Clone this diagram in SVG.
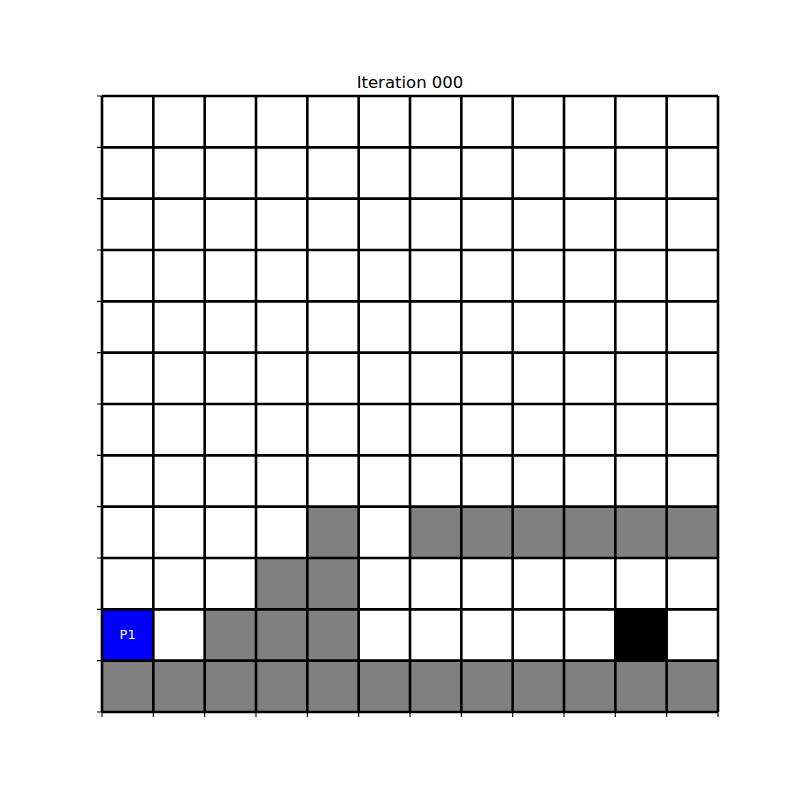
<svg xmlns="http://www.w3.org/2000/svg" width="800" height="800" viewBox="0 0 800 800">
<style>
.c{stroke:#000;stroke-width:2.6;}
.w{fill:#fff;}
.g{fill:#808080;}
.k{fill:#000;}
.b{fill:#0000ff;}
.t{stroke:#000;stroke-width:1.1;}
</style>
<rect width="800" height="800" fill="#fff"/>
<text x="410" y="88" font-family="DejaVu Sans, sans-serif" font-size="16.5" text-anchor="middle" fill="#000">Iteration 000</text>
<g id="cells">
<rect class="w" x="102" y="96" width="616" height="616"/>
<!-- row 8 -->
<rect class="g" x="307.333" y="506.667" width="51.333" height="51.333"/>
<rect class="g" x="410" y="506.667" width="308" height="51.333"/>
<!-- row 9 -->
<rect class="g" x="256" y="558" width="102.667" height="51.333"/>
<!-- row 10 -->
<rect class="g" x="204.667" y="609.333" width="154" height="51.333"/>
<rect class="k" x="615.333" y="609.333" width="51.333" height="51.333"/>
<!-- row 11 -->
<rect class="g" x="102" y="660.667" width="616" height="51.333"/>
</g>
<g id="P1">
<rect class="b" x="102" y="609.333" width="51.333" height="51.333"/>
<text x="127.67" y="639" font-family="DejaVu Sans, sans-serif" font-size="13" text-anchor="middle" fill="#fff">P1</text>
</g>
<g id="grid" class="c">
<path d="M102 96V712M153.333 96V712M204.667 96V712M256 96V712M307.333 96V712M358.667 96V712M410 96V712M461.333 96V712M512.667 96V712M564 96V712M615.333 96V712M666.667 96V712M718 96V712"/>
<path d="M102 96H718M102 147.333H718M102 198.667H718M102 250H718M102 301.333H718M102 352.667H718M102 404H718M102 455.333H718M102 506.667H718M102 558H718M102 609.333H718M102 660.667H718M102 712H718"/>
</g>
<g id="ticks" class="t">
<path d="M97 96H102M97 147.333H102M97 198.667H102M97 250H102M97 301.333H102M97 352.667H102M97 404H102M97 455.333H102M97 506.667H102M97 558H102M97 609.333H102M97 660.667H102M97 712H102"/>
<path d="M102 712V717M153.333 712V717M204.667 712V717M256 712V717M307.333 712V717M358.667 712V717M410 712V717M461.333 712V717M512.667 712V717M564 712V717M615.333 712V717M666.667 712V717M718 712V717"/>
</g>
</svg>
